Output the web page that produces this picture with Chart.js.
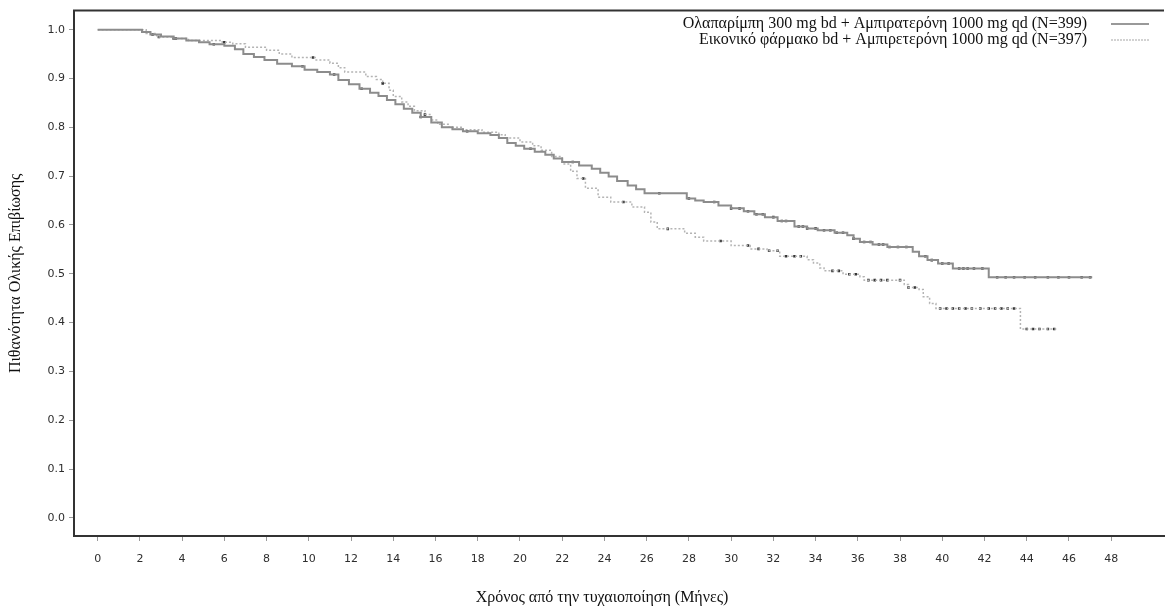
<!DOCTYPE html>
<html>
<head>
<meta charset="utf-8">
<script src="https://cdn.jsdelivr.net/npm/chart.js@4"></script>
<style>
  body { margin: 0; background: #fff; }
  canvas { display: block; }
</style>
</head>
<body>
<canvas id="osChart" width="1168" height="614"></canvas>
<script>
// Courbes Kaplan-Meier : survie globale, deux bras

const xTicks = [0, 2, 4, 6, 8, 10, 12, 14, 16, 18, 20, 22, 24, 26, 28, 30, 32, 34, 36, 38, 40, 42, 44, 46, 48];
const yTicks = [0, 0.1, 0.2, 0.3, 0.4, 0.5, 0.6, 0.7, 0.8, 0.9, 1.0];

const labelOla = 'Ολαπαρίμπη 300 mg bd + Αμπιρατερόνη 1000 mg qd (N=399)';
const labelPbo = 'Εικονικό φάρμακο bd + Αμπιρετερόνη 1000 mg qd (N=397)';

// bras olaparib : [mois, survie]
const olaCurve = [
  [0, 1.0], [2.1, 0.995], [2.5, 0.99], [3.0, 0.986], [3.6, 0.982], [4.2, 0.978], [4.8, 0.974],
  [5.3, 0.97], [6.0, 0.967], [6.5, 0.96], [6.9, 0.95], [7.4, 0.944], [7.9, 0.938], [8.5, 0.93],
  [9.2, 0.925], [9.8, 0.918], [10.4, 0.913], [11.0, 0.908], [11.4, 0.897], [11.9, 0.888],
  [12.4, 0.879], [12.9, 0.871], [13.3, 0.864], [13.7, 0.856], [14.1, 0.847], [14.5, 0.838],
  [14.9, 0.83], [15.3, 0.821], [15.8, 0.81], [16.3, 0.8], [16.8, 0.796], [17.3, 0.792],
  [18.0, 0.788], [18.6, 0.784], [19.0, 0.778], [19.4, 0.768], [19.8, 0.762], [20.2, 0.756],
  [20.7, 0.75], [21.2, 0.744], [21.6, 0.736], [22.0, 0.729], [22.8, 0.722], [23.4, 0.715],
  [23.8, 0.707], [24.2, 0.699], [24.6, 0.69], [25.1, 0.681], [25.5, 0.673], [25.9, 0.665],
  [27.9, 0.654], [28.3, 0.65], [28.7, 0.647], [29.4, 0.64], [30.0, 0.634], [30.6, 0.628],
  [31.1, 0.622], [31.6, 0.616], [32.2, 0.608], [33.0, 0.597], [33.6, 0.593], [34.1, 0.589],
  [34.9, 0.584], [35.5, 0.579], [35.8, 0.572], [36.1, 0.565], [36.7, 0.56], [37.4, 0.555],
  [38.6, 0.545], [38.9, 0.536], [39.3, 0.528], [39.8, 0.521], [40.5, 0.511], [42.2, 0.493],
  [47.1, 0.493]
];

// bras placebo : [mois, survie]
const pboCurve = [
  [0, 1.0], [2.3, 0.992], [2.8, 0.985], [3.6, 0.982], [4.3, 0.978], [5.9, 0.974], [6.4, 0.971],
  [7.0, 0.964], [8.0, 0.958], [8.6, 0.95], [9.2, 0.943], [10.3, 0.938], [11.0, 0.931],
  [11.4, 0.922], [11.7, 0.913], [12.7, 0.904], [13.2, 0.898], [13.5, 0.89], [13.8, 0.876],
  [14.0, 0.863], [14.4, 0.852], [14.7, 0.843], [15.0, 0.834], [15.5, 0.826], [15.8, 0.815],
  [16.1, 0.806], [16.6, 0.8], [17.3, 0.795], [18.2, 0.79], [19.0, 0.785], [19.3, 0.778],
  [20.0, 0.77], [20.6, 0.762], [21.0, 0.753], [21.5, 0.74], [22.0, 0.725], [22.4, 0.71],
  [22.7, 0.695], [23.1, 0.675], [23.7, 0.657], [24.3, 0.647], [25.3, 0.637], [25.9, 0.626],
  [26.2, 0.606], [26.5, 0.592], [27.8, 0.583], [28.3, 0.575], [28.7, 0.567], [30.0, 0.558],
  [30.9, 0.551], [31.7, 0.547], [32.3, 0.536], [33.6, 0.529], [33.9, 0.522], [34.2, 0.512],
  [34.4, 0.506], [35.3, 0.499], [36.1, 0.494], [36.3, 0.487], [38.2, 0.478], [38.4, 0.472],
  [38.9, 0.468], [39.1, 0.453], [39.4, 0.439], [39.7, 0.429], [43.7, 0.387], [45.4, 0.387]
];

// temps de censure (mois)
const olaCensored = [2.6, 3.6, 5.5, 9.7, 11.2, 12.5, 15.3, 17.5, 20.5, 22.5, 26.6, 28.0, 29.2,
  30.0, 30.4, 30.8, 31.2, 31.5, 32.0, 32.4, 32.6, 33.2, 33.4, 33.6, 34.0, 34.4, 34.7, 35.0, 35.3,
  35.8, 36.3, 36.6, 37.0, 37.2, 37.5, 37.9, 38.3, 39.2, 39.5, 40.0, 40.3, 40.8, 41.0, 41.2, 41.5,
  41.9, 42.6, 43.0, 43.4, 43.9, 44.4, 45.0, 45.5, 46.0, 46.6, 47.0];
const pboCensored = [2.9, 3.7, 6.0, 10.2, 13.5, 15.5, 23.0, 24.9, 27.0, 29.5, 30.8, 31.3, 31.8,
  32.2, 32.6, 33.0, 33.3, 34.8, 35.1, 35.6, 35.9, 36.5, 36.8, 37.1, 37.4, 38.0, 38.4, 38.7, 39.9,
  40.2, 40.5, 40.8, 41.1, 41.4, 41.8, 42.2, 42.5, 42.8, 43.1, 43.4, 44.0, 44.3, 44.6, 45.0, 45.3];

const toPoints = curve => curve.map(([x, y]) => ({ x, y }));

// valeur de la courbe en escalier au temps t
function survivalAt(curve, t) {
  let s = curve[0][1];
  for (const [x, y] of curve) {
    if (x <= t) s = y; else break;
  }
  return s;
}
const censorPoints = (curve, times) => times.map(t => ({ x: t, y: survivalAt(curve, t) }));

const serif = '"Liberation Serif", "Times New Roman", serif';
const tickFont = { family: '"DejaVu Sans", Verdana, sans-serif', size: 11 };

// cadre du haut, légende à droite, titre de l'axe x
const decorations = {
  id: 'decorations',
  afterDraw(chart) {
    const { ctx, chartArea } = chart;
    ctx.save();
    ctx.strokeStyle = '#333';
    ctx.lineWidth = 2;
    ctx.beginPath();
    ctx.moveTo(chartArea.left - 1, chartArea.top);
    ctx.lineTo(chartArea.right, chartArea.top);
    ctx.stroke();

    ctx.font = '16px ' + serif;
    ctx.fillStyle = '#111';
    ctx.textAlign = 'right';
    ctx.textBaseline = 'middle';
    ctx.fillText(labelOla, 1087, 24);
    ctx.fillText(labelPbo, 1087, 40);

    ctx.lineWidth = 2;
    ctx.strokeStyle = '#999';
    ctx.beginPath();
    ctx.moveTo(1111, 24);
    ctx.lineTo(1149, 24);
    ctx.stroke();
    ctx.strokeStyle = '#c4c4c4';
    ctx.lineWidth = 1.5;
    ctx.setLineDash([2, 1]);
    ctx.beginPath();
    ctx.moveTo(1111, 40);
    ctx.lineTo(1149, 40);
    ctx.stroke();
    ctx.setLineDash([]);

    ctx.textAlign = 'center';
    ctx.fillText('Χρόνος από την τυχαιοποίηση (Μήνες)', 602, 598);
    ctx.restore();
  }
};

new Chart(document.getElementById('osChart'), {
  type: 'line',
  data: {
    datasets: [
      {
        label: labelOla,
        data: toPoints(olaCurve),
        stepped: 'before',
        borderColor: '#8c8c8c',
        borderWidth: 2,
        pointRadius: 0,
        fill: false
      },
      {
        label: labelPbo,
        data: toPoints(pboCurve),
        stepped: 'before',
        borderColor: '#b4b4b4',
        borderWidth: 1.5,
        borderDash: [2, 2],
        pointRadius: 0,
        fill: false
      },
      {
        label: 'censure olaparib',
        data: censorPoints(olaCurve, olaCensored),
        showLine: false,
        pointStyle: 'rect',
        pointRadius: 1.8,
        pointBackgroundColor: '#333',
        pointBorderWidth: 0
      },
      {
        label: 'censure placebo',
        data: censorPoints(pboCurve, pboCensored),
        showLine: false,
        pointStyle: 'rect',
        pointRadius: 1.8,
        pointBackgroundColor: '#333',
        pointBorderWidth: 0
      }
    ]
  },
  options: {
    responsive: false,
    animation: false,
    layout: { padding: { top: 10, right: 0, left: 0, bottom: 0 } },
    plugins: {
      legend: { display: false },
      tooltip: { enabled: false }
    },
    scales: {
      x: {
        type: 'linear',
        min: -1.12,
        max: 50.5,
        afterFit: s => { s.height = 78; },
        afterBuildTicks: s => { s.ticks = xTicks.map(v => ({ value: v })); },
        grid: { drawOnChartArea: false, drawTicks: true, tickLength: 5, color: '#9a9a9a' },
        border: { display: true, color: '#333', width: 2 },
        ticks: { font: tickFont, color: '#2e2e2e', padding: 12, maxRotation: 0, autoSkip: false }
      },
      y: {
        min: -0.037,
        max: 1.039,
        afterFit: s => { s.width = 74; },
        afterBuildTicks: s => { s.ticks = yTicks.map(v => ({ value: v })); },
        grid: { drawOnChartArea: false, drawTicks: true, tickLength: 5, color: '#9a9a9a' },
        border: { display: true, color: '#333', width: 2 },
        ticks: {
          font: tickFont,
          color: '#2e2e2e',
          padding: 4,
          callback: v => v.toFixed(1)
        },
        title: {
          display: true,
          text: 'Πιθανότητα Ολικής Επιβίωσης',
          font: { family: serif, size: 16 },
          color: '#111',
          padding: { top: 6, bottom: 0 }
        }
      }
    }
  },
  plugins: [decorations]
});
</script>
</body>
</html>
